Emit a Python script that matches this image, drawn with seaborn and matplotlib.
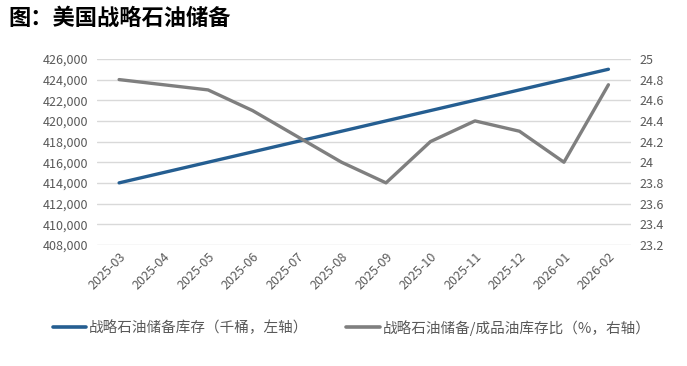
import matplotlib
matplotlib.use("Agg")
import matplotlib.pyplot as plt
import matplotlib.ticker as mticker
from matplotlib.lines import Line2D
import seaborn as sns
import pandas as pd

months = ["2025-03", "2025-04", "2025-05", "2025-06", "2025-07", "2025-08",
          "2025-09", "2025-10", "2025-11", "2025-12", "2026-01", "2026-02"]
spr_stock = [414000, 415000, 416000, 417000, 418000, 419000,
             420000, 421000, 422000, 423000, 424000, 425000]
spr_ratio = [24.8, 24.75, 24.7, 24.5, 24.25, 24.0,
             23.8, 24.2, 24.4, 24.3, 24.0, 24.75]
label_stock = "战略石油储备库存（千桶，左轴）"
label_ratio = "战略石油储备/成品油库存比（%，右轴）"
title = "图：美国战略石油储备"

sns.set_theme(style="white")
plt.rcParams['font.family'] = ['Noto Sans CJK SC', 'DejaVu Sans']

blue = "#255E91"
gray = "#7F7F7F"
tick_col = "#595959"
grid_col = "#D9D9D9"

df = pd.DataFrame({"month": months, "stock": spr_stock, "ratio": spr_ratio})
df["idx"] = range(len(months))

fig = plt.figure(figsize=(6.87, 3.66), dpi=100)
ax = fig.add_axes([0.141, 0.331, 0.777, 0.508])
ax2 = ax.twinx()

sns.lineplot(data=df, x="idx", y="stock", ax=ax, color=blue, linewidth=2.4, legend=False)
sns.lineplot(data=df, x="idx", y="ratio", ax=ax2, color=gray, linewidth=2.4, legend=False)

ax.set_xlim(-0.5, len(months) - 0.5)
ax.set_ylim(408000, 426000)
ax.set_yticks(range(408000, 426001, 2000))
ax.yaxis.set_major_formatter(mticker.FuncFormatter(lambda v, p: f"{int(v):,}"))
ax2.set_ylim(23.2, 25.0)
ax2.set_yticks([23.2 + 0.2 * i for i in range(10)])
ax2.yaxis.set_major_formatter(mticker.FuncFormatter(lambda v, p: f"{round(v, 1):g}"))

ax.set_xticks(df["idx"])
ax.set_xticklabels(months, rotation=45, ha="right", rotation_mode="anchor")

ax.grid(axis="y", color=grid_col, linewidth=1)
ax.set_axisbelow(True)
for a in (ax, ax2):
    for s in a.spines.values():
        s.set_visible(False)
    a.set_xlabel("")
    a.set_ylabel("")
    a.tick_params(axis="both", length=0, labelsize=9, colors=tick_col, pad=6)
ax.tick_params(axis="x", pad=4)
ax2.grid(False)

fig.text(0.012, 0.95, title, fontsize=16, fontweight="bold", color="black", va="center")

handles = [Line2D([0], [0], color=blue, linewidth=2.6),
           Line2D([0], [0], color=gray, linewidth=2.6)]
fig.legend(handles, [label_stock, label_ratio], loc="center", bbox_to_anchor=(0.512, 0.105),
           ncol=2, frameon=False, fontsize=10.5, handlelength=2.3, handletextpad=0.2,
           columnspacing=2.6, labelcolor=tick_col)

fig.savefig("out.png", dpi=100)
